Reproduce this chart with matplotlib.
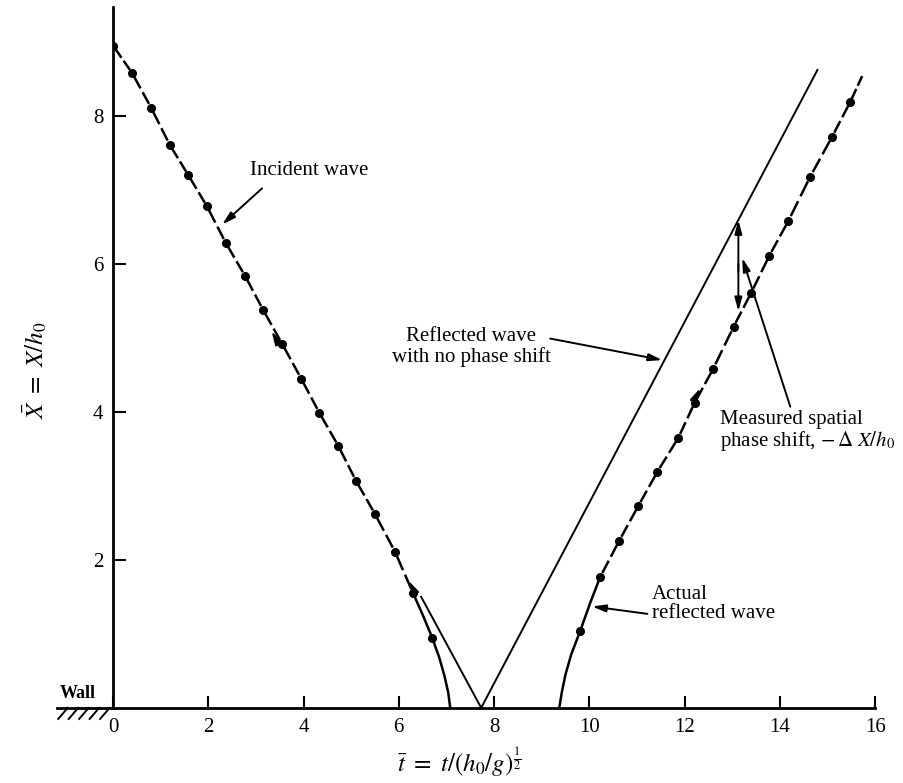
import numpy as np
import matplotlib
matplotlib.use('Agg')
import matplotlib.pyplot as plt

plt.rcParams['font.family'] = ['Liberation Serif', 'DejaVu Serif']
plt.rcParams['mathtext.fontset'] = 'stix'
plt.rcParams['lines.scale_dashes'] = False

# incident wave: measured points and the solid run-in to the wall
inc_t = [0.00, 0.40, 0.80, 1.19, 1.58, 1.97, 2.37, 2.77, 3.15, 3.55, 3.95,
         4.33, 4.73, 5.10, 5.50, 5.92, 6.30, 6.70]
inc_x = [8.95, 8.58, 8.11, 7.61, 7.20, 6.78, 6.28, 5.84, 5.38, 4.92, 4.45,
         3.99, 3.54, 3.07, 2.62, 2.11, 1.55, 0.95]
inc_curve_t = [6.30, 6.50, 6.70, 6.85, 6.96, 7.04, 7.08]
inc_curve_x = [1.55, 1.26, 0.95, 0.68, 0.43, 0.20, 0.00]

# actual reflected wave
refl_t = [9.81, 10.23, 10.63, 11.03, 11.43, 11.87, 12.21, 12.60, 13.03,
          13.40, 13.78, 14.18, 14.64, 15.10, 15.48]
refl_x = [1.04, 1.77, 2.26, 2.73, 3.19, 3.65, 4.12, 4.58, 5.15,
          5.61, 6.11, 6.58, 7.18, 7.72, 8.19]
refl_curve_t = [9.37, 9.42, 9.50, 9.62, 9.81, 10.02, 10.23]
refl_curve_x = [0.00, 0.20, 0.45, 0.72, 1.04, 1.42, 1.77]
refl_end = (15.76, 8.58)

# ideal reflection without phase shift
ideal_t = [6.47, 7.73, 14.79]
ideal_x = [1.50, 0.00, 8.62]

fig = plt.figure(figsize=(9.04, 7.83), dpi=100)
ax = fig.add_axes([0.125, 0.096, 0.843, 0.895])
ax.set_xlim(0, 16)
ax.set_ylim(0, 9.47)

for s in ['top', 'right']:
    ax.spines[s].set_visible(False)
for s in ['left', 'bottom']:
    ax.spines[s].set_linewidth(2)

ax.set_xticks(range(0, 17, 2))
ax.set_yticks([2, 4, 6, 8])
ax.tick_params(direction='in', length=9, width=1.5, labelsize=15)
ax.tick_params(axis='x', pad=7)
ax.tick_params(axis='y', pad=7)

lw = 1.8


def dashed_between(ts, xs):
    # dash each interval separately so gaps sit around the dots
    pts = ax.transData.transform(np.column_stack([ts, xs]))
    for (t0, x0), (t1, x1), p, q in zip(zip(ts[:-1], xs[:-1]), zip(ts[1:], xs[1:]),
                                        pts[:-1], pts[1:]):
        L = np.hypot(*(q - p)) * 72 / fig.dpi
        g = 0.11 * L
        d = (L - 3 * g) / 2
        ax.plot([t0, t1], [x0, x1], color='black', lw=lw,
                linestyle=(d, (d, g)), solid_capstyle='butt')


# incident wave
dashed_between(inc_t[:-1], inc_x[:-1])
ax.plot(inc_curve_t, inc_curve_x, color='black', lw=lw)
ax.plot(inc_t, inc_x, 'o', color='black', ms=5.5)

# reflected wave
ax.plot(refl_curve_t, refl_curve_x, color='black', lw=lw)
dashed_between(refl_t[1:] + [refl_end[0]], refl_x[1:] + [refl_end[1]])
ax.plot(refl_t, refl_x, 'o', color='black', ms=5.5)

# no phase shift
ax.plot(ideal_t, ideal_x, color='black', lw=1.4)

head = dict(arrowstyle='-|>,head_length=0.8,head_width=0.22', color='black', lw=1.4,
            shrinkA=0, shrinkB=0)


def along(t, x, dt, dx):
    ax.annotate('', xy=(t, x), xytext=(t - dt, x - dx), arrowprops=head)


# direction arrows on the wave paths
along(3.33, 5.09, -0.12, 0.14)
along(6.20, 1.72, -0.12, 0.14)
along(12.33, 4.32, 0.12, 0.15)

# phase shift marker
ax.annotate('', xy=(13.13, 6.59), xytext=(13.13, 5.9), arrowprops=head)
ax.annotate('', xy=(13.13, 5.36), xytext=(13.13, 6.0), arrowprops=head)

fs = 15
ax.text(2.88, 7.26, 'Incident wave', fontsize=fs, va='center', ha='left')
ax.annotate('', xy=(2.29, 6.53), xytext=(3.13, 7.02), arrowprops=head)

ax.text(7.52, 4.88, 'Reflected wave\nwith no phase shift', fontsize=fs,
        ha='center', va='center', multialignment='center', linespacing=1.05)
ax.annotate('', xy=(11.53, 4.70), xytext=(9.18, 4.99), arrowprops=head)

ax.text(12.75, 3.74, 'Measured spatial\nphase shift, $-\\,\\Delta\\ X/h_0$',
        fontsize=fs, ha='left', va='center', linespacing=1.0)
ax.annotate('', xy=(13.21, 6.08), xytext=(14.22, 4.07), arrowprops=head)

ax.text(11.32, 1.40, 'Actual\nreflected wave', fontsize=fs, ha='left',
        va='center', linespacing=1.0)
ax.annotate('', xy=(10.06, 1.37), xytext=(11.22, 1.27), arrowprops=head)

# wall at the origin
ax.plot([-1.17, 0], [0, 0], color='black', lw=2, clip_on=False)
for x0 in np.arange(-1.15, -0.1, 0.22):
    ax.plot([x0, x0 + 0.2], [-0.15, 0], color='black', lw=1.4, clip_on=False)
ax.text(-1.12, 0.2, 'Wall', fontsize=13, fontweight='bold', ha='left', va='center')

fig.text(0.508, 0.026, r'$\bar{t}\ =\ t/(h_0/g)^{\frac{1}{2}}$', fontsize=18,
         ha='center', va='center')
fig.text(0.039, 0.527, r'$\bar{X}\ =\ X/h_0$', fontsize=18, rotation=90,
         ha='center', va='center')

fig.savefig('out.png', dpi=100)
